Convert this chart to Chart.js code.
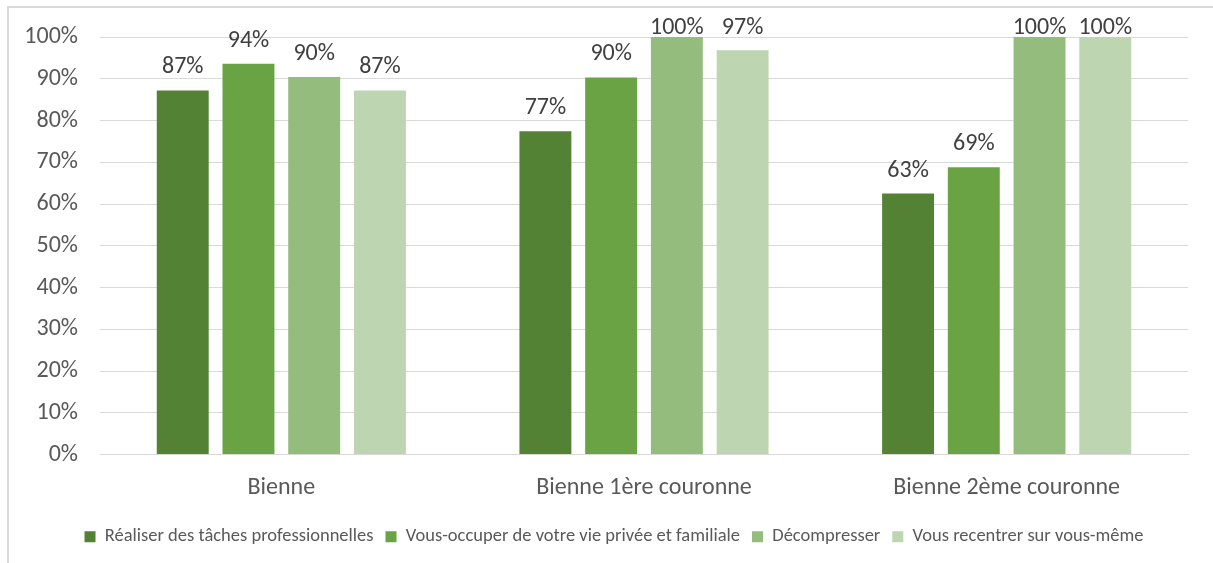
<!DOCTYPE html>
<html>
<head>
<meta charset="utf-8">
<script src="https://cdn.jsdelivr.net/npm/chart.js@4"></script>
<style>
  html, body { margin: 0; padding: 0; background: #fff; }
  #wrap { position: relative; width: 1213px; height: 563px; overflow: hidden; }
  #frame { position: absolute; left: 7px; top: 6px; width: 1300px; height: 700px;
           border-left: 2px solid #d9d9d9; border-top: 2px solid #d9d9d9; }
  canvas { position: absolute; left: 0; top: 0; }
</style>
</head>
<body>
<div id="wrap">
  <div id="frame"></div>
  <canvas id="barChart" width="1213" height="563"></canvas>
</div>
<script>
// categories and series (share in %)
const categories = ['Bienne', 'Bienne 1ère couronne', 'Bienne 2ème couronne'];
const seriesNames = [
    'Réaliser des tâches professionnelles',
    'Vous-occuper de votre vie privée et familiale',
    'Décompresser',
    'Vous recentrer sur vous-même'
];
const taches = [87.2, 77.4, 62.5];
const viePrivee = [93.6, 90.3, 68.8];
const decompresser = [90.4, 100, 100];
const recentrer = [87.2, 96.8, 100];
const yTicks = [0, 10, 20, 30, 40, 50, 60, 70, 80, 90, 100];

const colors = ['#548235', '#6aa343', '#94bc7c', '#bed5b1'];
const fontFamily = 'Carlito, Lato, "Open Sans", sans-serif';

// labels above each bar, kept inside the top of the canvas
const barLabels = {
    id: 'barLabels',
    afterDatasetsDraw(chart) {
        const ctx = chart.ctx;
        ctx.save();
        ctx.font = '24px ' + fontFamily;
        ctx.fillStyle = '#404040';
        ctx.textAlign = 'center';
        ctx.textBaseline = 'alphabetic';
        chart.data.datasets.forEach((ds, i) => {
            chart.getDatasetMeta(i).data.forEach((bar, j) => {
                const y = Math.max(bar.y - 17, 34);
                ctx.fillText(Math.round(ds.data[j]) + '%', bar.x, y);
            });
        });
        ctx.restore();
    }
};

// nudge the legend a bit right, like the original
const legendShift = {
    id: 'legendShift',
    afterLayout(chart) {
        const lg = chart.legend;
        if (!lg) return;
        lg.left += 20; lg.right += 20;
        lg.top -= 2; lg.bottom -= 2;
    }
};

const ctx = document.getElementById('barChart').getContext('2d');
new Chart(ctx, {
    type: 'bar',
    data: {
        labels: categories,
        datasets: [taches, viePrivee, decompresser, recentrer].map((d, i) => ({
            label: seriesNames[i],
            data: d,
            backgroundColor: colors[i],
            borderWidth: 0,
            categoryPercentage: 0.725,
            barPercentage: 0.79
        }))
    },
    options: {
        responsive: false,
        animation: false,
        layout: { padding: { left: 0, right: 25, top: 37, bottom: 5 } },
        scales: {
            x: {
                grid: { display: false, drawTicks: false },
                border: { color: '#d9d9d9', width: 1 },
                ticks: { color: '#595959', font: { family: fontFamily, size: 24 }, padding: 19 },
                afterFit(scale) { scale.height = 63; }
            },
            y: {
                min: 0,
                max: 100,
                afterBuildTicks(scale) { scale.ticks = yTicks.map(v => ({ value: v })); },
                afterFit(scale) { scale.width = 100; },
                grid: { color: '#d9d9d9', lineWidth: 1, drawTicks: false },
                border: { display: false },
                ticks: {
                    color: '#595959',
                    font: { family: fontFamily, size: 24 },
                    padding: 22,
                    callback: v => v + '%'
                }
            }
        },
        plugins: {
            legend: {
                position: 'bottom',
                labels: {
                    color: '#595959',
                    font: { family: fontFamily, size: 18.5 },
                    boxWidth: 11,
                    boxHeight: 11,
                    padding: 12
                }
            },
            tooltip: { enabled: false }
        }
    },
    plugins: [barLabels, legendShift]
});
</script>
</body>
</html>
